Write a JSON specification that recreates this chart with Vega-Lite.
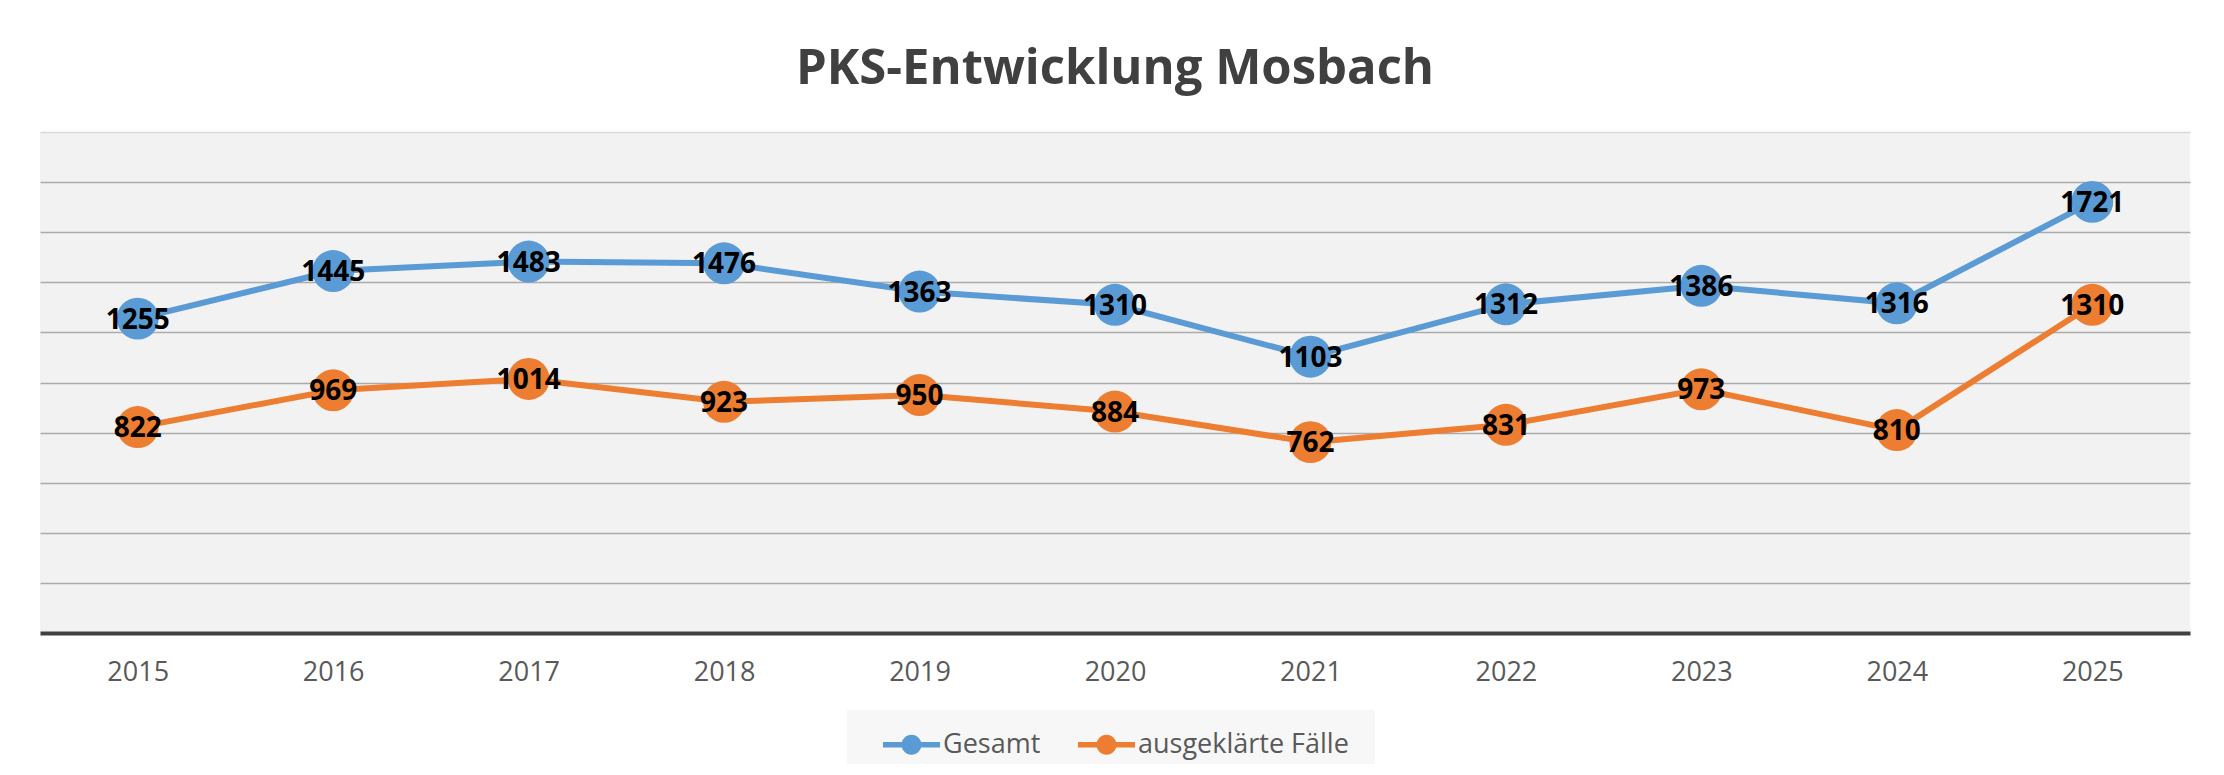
{
  "$schema": "https://vega.github.io/schema/vega-lite/v6.json",
  "autosize": {"type": "none"},
  "padding": {"left": 40, "top": 132, "right": 34, "bottom": 142},
  "width": 2150,
  "height": 501,
  "background": "white",
  "title": {
    "text": "PKS-Entwicklung Mosbach",
    "font": "Open Sans",
    "fontWeight": "bold",
    "fontSize": 49,
    "color": "#404040",
    "anchor": "middle",
    "offset": 38
  },
  "config": {
    "view": {"fill": "#F2F2F2", "stroke": null},
    "font": "Open Sans"
  },
  "data": {
    "values": [
      {"year": "2015", "series": "Gesamt", "value": 1255},
      {"year": "2016", "series": "Gesamt", "value": 1445},
      {"year": "2017", "series": "Gesamt", "value": 1483},
      {"year": "2018", "series": "Gesamt", "value": 1476},
      {"year": "2019", "series": "Gesamt", "value": 1363},
      {"year": "2020", "series": "Gesamt", "value": 1310},
      {"year": "2021", "series": "Gesamt", "value": 1103},
      {"year": "2022", "series": "Gesamt", "value": 1312},
      {"year": "2023", "series": "Gesamt", "value": 1386},
      {"year": "2024", "series": "Gesamt", "value": 1316},
      {"year": "2025", "series": "Gesamt", "value": 1721},
      {"year": "2015", "series": "ausgeklärte Fälle", "value": 822},
      {"year": "2016", "series": "ausgeklärte Fälle", "value": 969},
      {"year": "2017", "series": "ausgeklärte Fälle", "value": 1014},
      {"year": "2018", "series": "ausgeklärte Fälle", "value": 923},
      {"year": "2019", "series": "ausgeklärte Fälle", "value": 950},
      {"year": "2020", "series": "ausgeklärte Fälle", "value": 884},
      {"year": "2021", "series": "ausgeklärte Fälle", "value": 762},
      {"year": "2022", "series": "ausgeklärte Fälle", "value": 831},
      {"year": "2023", "series": "ausgeklärte Fälle", "value": 973},
      {"year": "2024", "series": "ausgeklärte Fälle", "value": 810},
      {"year": "2025", "series": "ausgeklärte Fälle", "value": 1310}
    ]
  },
  "encoding": {
    "x": {
      "field": "year",
      "type": "ordinal",
      "scale": {"type": "point", "padding": 0.5},
      "axis": {
        "title": null,
        "labelAngle": 0,
        "ticks": false,
        "grid": false,
        "domain": true,
        "domainColor": "#404040",
        "domainWidth": 4,
        "labelFont": "Open Sans",
        "labelFontSize": 27,
        "labelColor": "#595959",
        "labelPadding": 26
      }
    },
    "y": {
      "field": "value",
      "type": "quantitative",
      "scale": {"domain": [0, 2000], "nice": false},
      "axis": {
        "title": null,
        "labels": false,
        "ticks": false,
        "domain": false,
        "grid": true,
        "values": [200, 400, 600, 800, 1000, 1200, 1400, 1600, 1800, 2000],
        "gridColor": {"condition": {"test": "datum.value == 2000", "value": "#D9D9D9"}, "value": "#ABABAB"},
        "gridWidth": 1.5
      }
    },
    "color": {
      "field": "series",
      "type": "nominal",
      "scale": {"domain": ["Gesamt", "ausgeklärte Fälle"], "range": ["#5B9BD5", "#ED7D31"]},
      "legend": {
        "title": " ",
        "titleOrient": "right",
        "titleFontSize": 8,
        "titlePadding": 20,
        "orient": "none",
        "direction": "horizontal",
        "legendX": 807,
        "legendY": 578,
        "fillColor": "#F7F7F7",
        "padding": 6,
        "symbolType": "M-1,-0.1L1,-0.1L1,0.1L-1,0.1Z M0.35,0A0.35,0.35,0,1,1,-0.35,0A0.35,0.35,0,1,1,0.35,0Z",
        "symbolSize": 3249,
        "symbolStrokeWidth": 0,
        "symbolOffset": 30,
        "labelOffset": 3,
        "columnPadding": 7,
        "labelFont": "Open Sans",
        "labelFontSize": 27,
        "labelColor": "#595959",
        "labelLimit": 400
      }
    }
  },
  "layer": [
    {"mark": {"type": "line", "strokeWidth": 6}},
    {"mark": {"type": "point", "shape": "circle", "filled": true, "size": 1760, "opacity": 1}},
    {
      "mark": {"type": "text", "fontWeight": "bold", "fontSize": 28, "font": "Open Sans", "baseline": "middle", "align": "center", "dy": 2, "color": "black"},
      "encoding": {"text": {"field": "value", "type": "quantitative"}, "color": {"value": "black"}}
    }
  ]
}
